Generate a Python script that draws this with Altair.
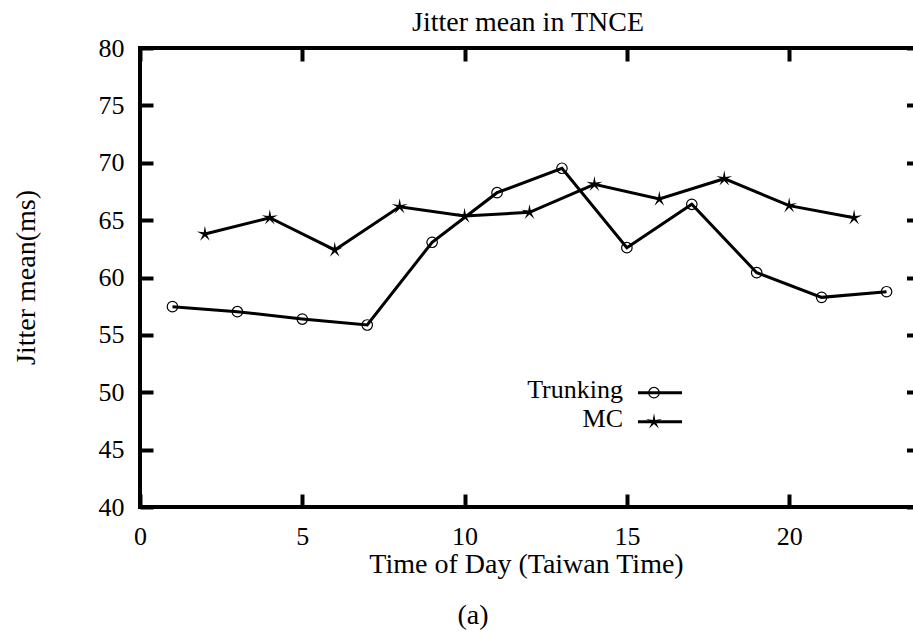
import altair as alt
import pandas as pd

# Hour of day (Taiwan time) and mean jitter (ms) for each configuration
trunk_hours = [1, 3, 5, 7, 9, 11, 13, 15, 17, 19, 21, 23]
trunk_jitter = [57.46, 57.02, 56.38, 55.86, 63.07, 67.39, 69.52, 62.60, 66.38, 60.42, 58.27, 58.76]
mc_hours = [2, 4, 6, 8, 10, 12, 14, 16, 18, 20, 22]
mc_jitter = [63.79, 65.21, 62.40, 66.17, 65.36, 65.68, 68.12, 66.84, 68.61, 66.26, 65.21]
series_names = ["Trunking", "MC"]
x_ticks = [0, 5, 10, 15, 20]
y_ticks = [40, 45, 50, 55, 60, 65, 70, 75, 80]
x_limits = [0, 24]
y_limits = [40, 80]

FONT = "Liberation Serif"
STAR = ("M0,-1L0.15,-0.21L0.951,-0.309L0.24,0.08L0.588,0.809L0,0.26"
        "L-0.588,0.809L-0.24,0.08L-0.951,-0.309L-0.15,-0.21Z")

W, H = 773, 459
x_scale = alt.Scale(domain=x_limits, range=[0, 779], nice=False, zero=False)
y_scale = alt.Scale(domain=y_limits, nice=False, zero=False)


def tick_axis(orient, values, offset, labels):
    return alt.Axis(
        orient=orient, values=values, offset=offset, tickSize=13, tickWidth=4,
        tickColor="black", tickCap="butt", domain=False, grid=False, title=None,
        labels=labels, labelFont=FONT, labelFontSize=26, labelFontWeight="normal",
        labelColor="black", labelPadding=16, labelFlush=False, labelOverlap=False,
    )


trunk_df = pd.DataFrame({"hour": trunk_hours, "jitter": trunk_jitter})
mc_df = pd.DataFrame({"hour": mc_hours, "jitter": mc_jitter})

# Data layers carry no axes of their own; the axes come from the frame layers
x_plain = alt.X("hour:Q", scale=x_scale, axis=None)
y_plain = alt.Y("jitter:Q", scale=y_scale, axis=None)

trunk_line = alt.Chart(trunk_df).mark_line(color="black", strokeWidth=3).encode(x=x_plain, y=y_plain)
trunk_pts = alt.Chart(trunk_df).mark_point(
    shape="circle", filled=False, color="black", strokeWidth=1.2, size=110, opacity=1
).encode(x=x_plain, y=y_plain)
mc_line = alt.Chart(mc_df).mark_line(color="black", strokeWidth=3).encode(x=x_plain, y=y_plain)
mc_pts = alt.Chart(mc_df).mark_point(
    shape=STAR, filled=True, color="black", size=280, opacity=1
).encode(x=x_plain, y=y_plain)

# Plot frame (left, top, bottom edges)
frame_df = pd.DataFrame({
    "x": [x_limits[0], x_limits[0], x_limits[0]],
    "x2": [x_limits[0], x_limits[1], x_limits[1]],
    "y": [y_limits[0], y_limits[1], y_limits[0]],
    "y2": [y_limits[1], y_limits[1], y_limits[0]],
})
frame = alt.Chart(frame_df).mark_rule(color="black", strokeWidth=4, strokeCap="square").encode(
    x=alt.X("x:Q", scale=x_scale, axis=tick_axis("bottom", x_ticks, -13, True)),
    x2="x2:Q",
    y=alt.Y("y:Q", scale=y_scale, axis=tick_axis("left", y_ticks, -13, True)),
    y2="y2:Q",
)
# Mirrored inward ticks on the top and right sides
mirror = alt.Chart(frame_df).mark_rule(opacity=0).encode(
    x=alt.X("x:Q", scale=x_scale, axis=tick_axis("top", x_ticks, -13, False)),
    y=alt.Y("y:Q", scale=y_scale, axis=tick_axis("right", y_ticks, -6.5, False)),
)

# Key
key_df = pd.DataFrame({"series": series_names, "ypos": [344.7, 373.7], "tpos": [350, 379]})
key_text = alt.Chart(key_df).mark_text(
    font=FONT, fontSize=26, align="right", baseline="alphabetic", color="black"
).encode(text="series:N", x=alt.value(483), y=alt.Y("tpos:Q", scale=None, axis=None))
key_lines = alt.Chart(key_df).mark_rule(color="black", strokeWidth=3).encode(
    x=alt.value(498), x2=alt.value(542), y=alt.Y("ypos:Q", scale=None, axis=None)
)
key_circle = alt.Chart(key_df.iloc[[0]]).mark_point(
    shape="circle", filled=False, color="black", strokeWidth=1.2, size=110, opacity=1
).encode(x=alt.value(514), y=alt.Y("ypos:Q", scale=None, axis=None))
key_star = alt.Chart(key_df.iloc[[1]]).mark_point(
    shape=STAR, filled=True, color="black", size=280, opacity=1
).encode(x=alt.value(514), y=alt.Y("ypos:Q", scale=None, axis=None))

# Titles
labels_df = pd.DataFrame({
    "text": ["Jitter mean in TNCE", "Time of Day (Taiwan Time)", "(a)"],
    "px": [388, 386.5, 333],
    "py": [-17, 525, 576],
})
titles = alt.Chart(labels_df).mark_text(
    font=FONT, fontSize=28, align="center", baseline="alphabetic", color="black"
).encode(
    text="text:N",
    x=alt.X("px:Q", scale=None, axis=None),
    y=alt.Y("py:Q", scale=None, axis=None),
)
ytitle = alt.Chart(pd.DataFrame({"text": ["Jitter mean(ms)"]})).mark_text(
    font=FONT, fontSize=28, align="center", baseline="middle", angle=270, color="black"
).encode(text="text:N", x=alt.value(-113), y=alt.value(229.5))

chart = alt.layer(
    frame, mirror, trunk_line, trunk_pts, mc_line, mc_pts,
    key_lines, key_circle, key_star, key_text, titles, ytitle,
).resolve_axis(x="independent", y="independent").properties(
    width=W, height=H,
    autosize=alt.AutoSizeParams(type="none"),
    padding={"left": 140, "top": 48, "right": 0, "bottom": 126},
    background="white",
).configure_view(stroke=None).configure_axis(labelFont=FONT, labelFontWeight="normal")

chart.save("out.html", embed_options={"renderer": "svg", "actions": False})
